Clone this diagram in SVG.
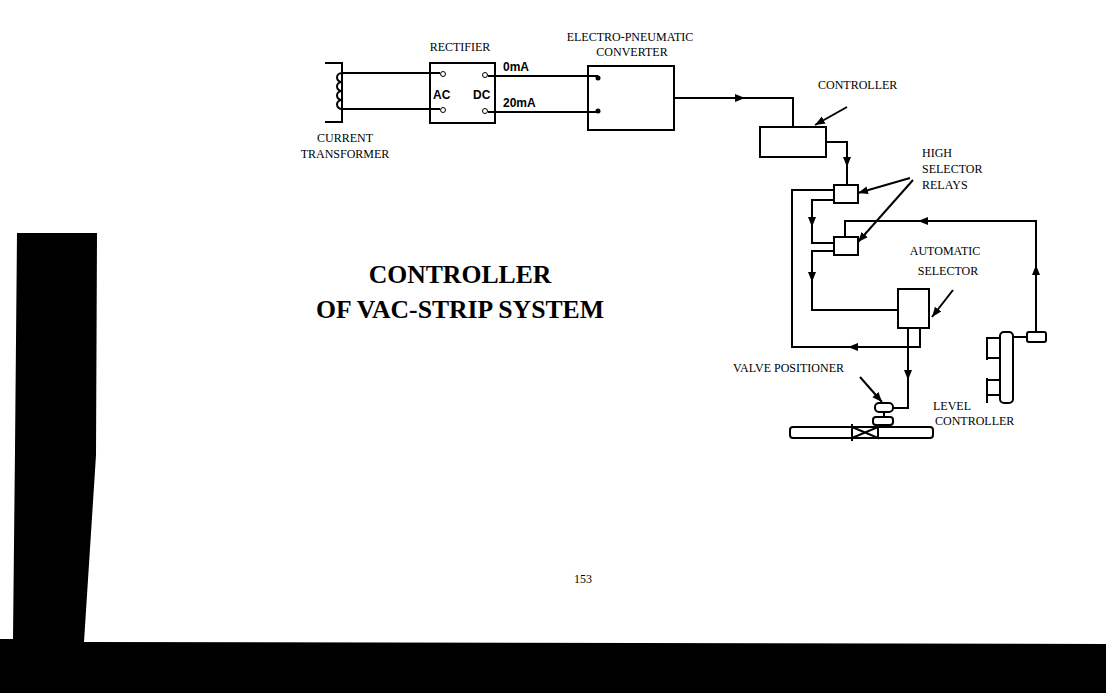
<svg xmlns="http://www.w3.org/2000/svg" width="1106" height="693" viewBox="0 0 1106 693">
<style>
.l{fill:none;stroke:#000;stroke-width:2}
.b{fill:#fff;stroke:#000;stroke-width:2}
.t{font-family:"Liberation Serif",serif;font-size:12px;fill:#000}
.s{font-family:"Liberation Sans",sans-serif;font-size:12px;font-weight:bold;fill:#000}
.h{font-family:"Liberation Serif",serif;font-size:25.7px;font-weight:bold;fill:#000}
</style>
<defs>
<marker id="a" viewBox="0 0 10 10" refX="5" refY="5" markerWidth="5" markerHeight="6" orient="auto"><path d="M0,1 L10,5 L0,9z" fill="#000"/></marker>
<marker id="p" viewBox="0 0 10 10" refX="10" refY="5" markerWidth="5" markerHeight="5" orient="auto"><path d="M0,1 L10,5 L0,9z" fill="#000"/></marker>
</defs>
<rect width="1106" height="693" fill="#fff"/>
<path d="M17,233 L97,233 L96,455 L84,642 L1106,644 L1106,693 L0,693 L0,639 L13,639 L15,450z" fill="#000"/>
<g id="transformer">
<path class="l" d="M325,63 H342 V122 H325"/>
<path class="l" d="M342,73 a5,4.5 0 0 0 0,9 a5,4.5 0 0 0 0,9 a5,4.5 0 0 0 0,9 a5,4.5 0 0 0 0,9"/>
<text class="t" text-anchor="middle" x="345" y="142">CURRENT</text>
<text class="t" text-anchor="middle" x="345" y="158">TRANSFORMER</text>
</g>
<g id="rectifier">
<rect class="b" x="430" y="63" width="65" height="60"/>
<circle cx="443" cy="74" r="2.5" fill="#fff" stroke="#000"/><circle cx="443" cy="110" r="2.5" fill="#fff" stroke="#000"/>
<circle cx="485" cy="75" r="2.5" fill="#fff" stroke="#000"/><circle cx="485" cy="111" r="2.5" fill="#fff" stroke="#000"/>
<text class="s" x="433" y="99">AC</text><text class="s" x="473" y="99">DC</text>
<text class="t" text-anchor="middle" x="460" y="51">RECTIFIER</text>
</g>
<g id="converter">
<rect class="b" x="588" y="66" width="86" height="64"/>
<circle cx="598" cy="78" r="2.5"/><circle cx="598" cy="111" r="2.5"/>
<text class="t" text-anchor="middle" x="630" y="41" font-size="11">ELECTRO-PNEUMATIC</text>
<text class="t" text-anchor="middle" x="632" y="56" font-size="11">CONVERTER</text>
</g>
<g id="controller">
<rect class="b" x="760" y="127" width="66" height="30"/>
<text class="t" x="818" y="89">CONTROLLER</text>
<line class="l" x1="847" y1="107" x2="815" y2="125" marker-end="url(#p)" stroke-width="1.5"/>
</g>
<g id="relay1"><rect class="b" x="834" y="185" width="24" height="18"/></g>
<g id="relay2"><rect class="b" x="834" y="237" width="24" height="18"/></g>
<g id="relaylabel">
<text class="t" x="922" y="157">HIGH</text><text class="t" x="922" y="173">SELECTOR</text><text class="t" x="922" y="189">RELAYS</text>
<line class="l" x1="910" y1="178" x2="858" y2="193" marker-end="url(#p)" stroke-width="1.5"/>
<line class="l" x1="913" y1="180" x2="858" y2="242" marker-end="url(#p)" stroke-width="1.5"/>
</g>
<g id="autoselector">
<rect class="b" x="898" y="289" width="31" height="39"/>
<text class="t" text-anchor="middle" x="945" y="255">AUTOMATIC</text><text class="t" text-anchor="middle" x="948" y="275">SELECTOR</text>
<line class="l" x1="953" y1="290" x2="932" y2="317" marker-end="url(#p)" stroke-width="1.5"/>
</g>
<g id="valve">
<rect class="b" x="790" y="427" width="143" height="11" rx="3"/>
<path class="b" d="M852,427 L878,438 L878,427 L852,438z"/>
<line class="l" x1="852" y1="424" x2="852" y2="441" stroke-width="3"/>
<rect class="b" x="873" y="417" width="20" height="8" rx="3"/>
<rect class="b" x="875" y="403" width="18" height="9" rx="4"/>
<line class="l" x1="884" y1="412" x2="884" y2="417"/>
<text class="t" x="733" y="372">VALVE POSITIONER</text>
<line class="l" x1="860" y1="377" x2="882" y2="402" marker-end="url(#p)" stroke-width="1.5"/>
</g>
<g id="level">
<rect class="b" x="1000" y="332" width="13" height="71" rx="4"/>
<rect class="b" x="1027" y="332" width="19" height="10" rx="2"/>
<line class="l" x1="1013" y1="337" x2="1027" y2="337"/>
<path class="l" d="M987,337 V360 M987,378 V403 M987,338 H1000 M987,358 H1000 M987,380 H1000 M987,395 H1000"/>
<text class="t" x="933" y="410">LEVEL</text><text class="t" x="935" y="425">CONTROLLER</text>
</g>
<g id="title">
<text class="h" text-anchor="middle" x="460" y="283">CONTROLLER</text>
<text class="h" text-anchor="middle" x="460" y="318">OF VAC-STRIP SYSTEM</text>
<text class="t" font-size="16" text-anchor="middle" x="583" y="583">153</text>
</g>
<g id="connectors">
<path class="l" d="M342,73 H440 M342,109 H440"/>
<path class="l" d="M488,76 H598 M488,112 H598"/>
<text class="s" x="503" y="71">0mA</text><text class="s" x="503" y="107">20mA</text>
<path class="l" d="M674,98 H740" marker-end="url(#a)"/><path class="l" d="M740,98 H793 V127"/>
<path class="l" d="M826,142 H847 V162" marker-end="url(#a)"/><path class="l" d="M847,162 V185"/>
<path class="l" d="M834,190 H792 V347 H853" /><path class="l" d="M920,328 V347 H853" marker-end="url(#a)"/>
<path class="l" d="M834,200 H812 V222" marker-end="url(#a)"/><path class="l" d="M812,222 V243 H834"/>
<path class="l" d="M845,237 V221 H923"/><path class="l" d="M1036,332 V270" marker-end="url(#a)"/><path class="l" d="M1036,270 V221 H923" marker-end="url(#a)"/>
<path class="l" d="M834,251 H812 V277" marker-end="url(#a)"/><path class="l" d="M812,277 V310 H898"/>
<path class="l" d="M908,328 V375" marker-end="url(#a)"/><path class="l" d="M908,375 V408 H893"/>
</g>
</svg>
